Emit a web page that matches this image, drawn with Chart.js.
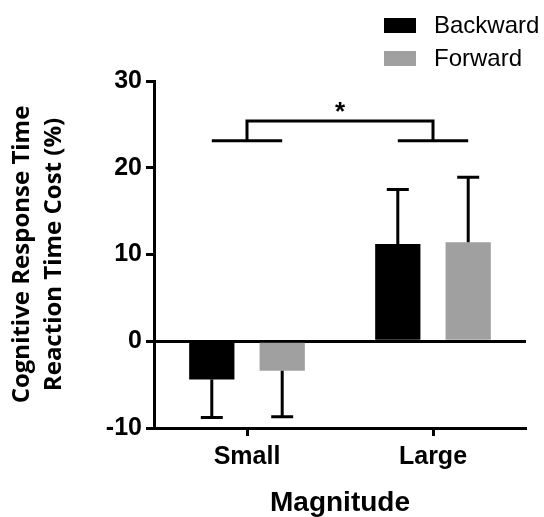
<!DOCTYPE html>
<html>
<head>
<meta charset="utf-8">
<script src="https://cdn.jsdelivr.net/npm/chart.js@4/dist/chart.umd.min.js"></script>
<style>
  html, body { margin: 0; padding: 0; background: #fff; }
  #wrap { width: 544px; height: 517px; }
</style>
</head>
<body>
<div id="wrap"><canvas id="chart" width="544" height="517"></canvas></div>
<script>
// data
const categories = ["Small", "Large"];
const backwardMean = [-4.4, 11.2];
const forwardMean = [-3.4, 11.4];
const backwardErr = [-8.8, 17.5];  // end of the error bar
const forwardErr = [-8.7, 18.9];
const yTicks = [-10, 0, 10, 20, 30];

// significance bracket (value units)
const bracketTop = 25.4;
const bracketLow = 23.1;

const ink = "#000";
const sans = "'Liberation Sans', Arial, sans-serif";

// error bars drawn from the bar end out to the value end
const errorBars = {
  id: "errorBars",
  afterDatasetsDraw(chart) {
    const ctx = chart.ctx;
    const y = chart.scales.y;
    const ends = [backwardErr, forwardErr];
    ctx.save();
    ctx.strokeStyle = ink;
    ctx.lineWidth = 3;
    ends.forEach((arr, di) => {
      const meta = chart.getDatasetMeta(di);
      meta.data.forEach((bar, i) => {
        const yEnd = y.getPixelForValue(arr[i]);
        ctx.beginPath();
        ctx.moveTo(bar.x, bar.y);
        ctx.lineTo(bar.x, yEnd);
        ctx.moveTo(bar.x - 11, yEnd);
        ctx.lineTo(bar.x + 11, yEnd);
        ctx.stroke();
      });
    });
    ctx.restore();
  },
};

// bracket with star + legend at top right
const extras = {
  id: "extras",
  afterDraw(chart) {
    const ctx = chart.ctx;
    const x = chart.scales.x;
    const y = chart.scales.y;
    const b0 = chart.getDatasetMeta(0).data;
    const b1 = chart.getDatasetMeta(1).data;
    const c0 = x.getPixelForValue(0);
    const c1 = x.getPixelForValue(1);
    const yt = y.getPixelForValue(bracketTop);
    const yl = y.getPixelForValue(bracketLow);

    ctx.save();
    ctx.strokeStyle = ink;
    ctx.lineWidth = 3;
    ctx.beginPath();
    ctx.moveTo(c0, yl);
    ctx.lineTo(c0, yt);
    ctx.lineTo(c1, yt);
    ctx.lineTo(c1, yl);
    ctx.moveTo(b0[0].x, yl);
    ctx.lineTo(b1[0].x, yl);
    ctx.moveTo(b0[1].x, yl);
    ctx.lineTo(b1[1].x, yl);
    ctx.stroke();

    ctx.fillStyle = ink;
    ctx.font = "bold 26px " + sans;
    ctx.textAlign = "center";
    ctx.textBaseline = "middle";
    ctx.fillText("*", (c0 + c1) / 2, yt - 8);

    // legend
    const items = chart.data.datasets;
    ctx.font = "24px " + sans;
    ctx.textAlign = "left";
    items.forEach((ds, i) => {
      const cy = 25 + i * 33;
      ctx.fillStyle = ds.backgroundColor;
      ctx.fillRect(384, cy - 7, 32, 15);
      ctx.fillStyle = ink;
      ctx.fillText(ds.label, 434, cy + 1);
    });
    ctx.restore();
  },
};

new Chart(document.getElementById("chart"), {
  type: "bar",
  data: {
    labels: categories,
    datasets: [
      { label: "Backward", data: backwardMean, backgroundColor: "#000000" },
      { label: "Forward", data: forwardMean, backgroundColor: "#a0a0a0" },
    ],
  },
  options: {
    responsive: false,
    animation: false,
    events: [],
    layout: { padding: { left: 6, right: 18, top: 81, bottom: 0 } },
    datasets: {
      bar: { categoryPercentage: 0.757, barPercentage: 0.643 },
    },
    plugins: {
      legend: { display: false },
      tooltip: { enabled: false },
    },
    scales: {
      x: {
        offset: true,
        grid: {
          offset: false,
          drawOnChartArea: false,
          tickLength: 8,
          tickWidth: 3,
          tickColor: ink,
        },
        border: { display: true, color: ink, width: 3 },
        ticks: {
          color: ink,
          padding: 6,
          font: { family: sans, size: 25, weight: "bold" },
        },
        title: {
          display: true,
          text: "Magnitude",
          color: ink,
          padding: { top: 8, bottom: -3 },
          font: { family: sans, size: 28, weight: "bold" },
        },
        afterFit(scale) {
          scale.height = 89;
        },
      },
      y: {
        min: -10,
        max: 30,
        afterBuildTicks(scale) {
          scale.ticks = yTicks.map((v) => ({ value: v }));
        },
        grid: {
          drawOnChartArea: true,
          color: (c) => (c.tick && c.tick.value === 0 ? ink : "rgba(0,0,0,0)"),
          lineWidth: 3,
          tickLength: 8,
          tickWidth: 3,
          tickColor: ink,
        },
        border: { display: true, color: ink, width: 3 },
        ticks: {
          color: ink,
          padding: 4,
          font: { family: sans, size: 25, weight: "bold" },
        },
        title: {
          display: true,
          text: ["Cognitive Response Time", "Reaction Time Cost (%)"],
          color: ink,
          padding: { top: 0, bottom: 0 },
          font: { family: "'Open Sans', sans-serif", size: 24, weight: "bold", lineHeight: 1.35 },
        },
        afterFit(scale) {
          scale.width = 148;
        },
      },
    },
  },
  plugins: [errorBars, extras],
});
</script>
</body>
</html>
